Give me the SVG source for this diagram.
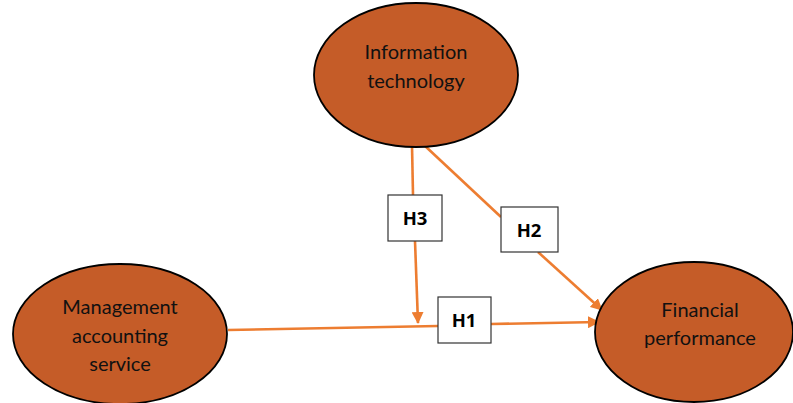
<svg xmlns="http://www.w3.org/2000/svg" width="793" height="403" viewBox="0 0 793 403">
<style>
.node{fill:#C55C28;stroke:#000;stroke-width:1.8}
.lbl{font-family:Lato,"Open Sans",sans-serif;font-size:20px;fill:#111;text-anchor:middle}
.edge{stroke:#ED7D31;stroke-width:2.6;fill:none}
.box{fill:#fff;stroke:#333;stroke-width:1.2}
.h{font-family:"Open Sans","Liberation Sans",sans-serif;font-size:18.5px;font-weight:bold;fill:#000;text-anchor:middle}
</style>
<defs>
<marker id="arr" markerWidth="12" markerHeight="12" refX="11" refY="6" orient="auto" markerUnits="userSpaceOnUse" viewBox="0 0 12 12">
<path d="M0,0 L12,6 L0,12 Z" fill="#ED7D31"/>
</marker>
</defs>
<rect width="793" height="403" fill="#fff"/>
<g id="connectors">
<line class="edge" x1="412" y1="145" x2="413" y2="195"/>
<line class="edge" x1="415" y1="241" x2="418" y2="323" marker-end="url(#arr)"/>
<line class="edge" x1="424" y1="145" x2="501" y2="217"/>
<line class="edge" x1="538" y1="252" x2="602" y2="310" marker-end="url(#arr)"/>
<line class="edge" x1="228" y1="330" x2="438" y2="326"/>
<line class="edge" x1="491" y1="324" x2="599" y2="322" marker-end="url(#arr)"/>
</g>
<g id="it">
<ellipse class="node" cx="416" cy="75" rx="102" ry="72"/>
<text class="lbl" x="416" y="59">Information</text>
<text class="lbl" x="416" y="88">technology</text>
</g>
<g id="mas">
<ellipse class="node" cx="120" cy="334" rx="107" ry="70"/>
<text class="lbl" x="120" y="314">Management</text>
<text class="lbl" x="120" y="343">accounting</text>
<text class="lbl" x="120" y="371">service</text>
</g>
<g id="fp">
<ellipse class="node" cx="694" cy="332" rx="99" ry="70"/>
<text class="lbl" x="700" y="317">Financial</text>
<text class="lbl" x="700" y="345">performance</text>
</g>
<g id="h3">
<rect class="box" x="388" y="195" width="54" height="46"/>
<text class="h" x="415" y="224.5">H3</text>
</g>
<g id="h2">
<rect class="box" x="501" y="207" width="57" height="45"/>
<text class="h" x="529" y="236.5">H2</text>
</g>
<g id="h1">
<rect class="box" x="438" y="297" width="53" height="46"/>
<text class="h" x="464" y="326.5">H1</text>
</g>
</svg>
